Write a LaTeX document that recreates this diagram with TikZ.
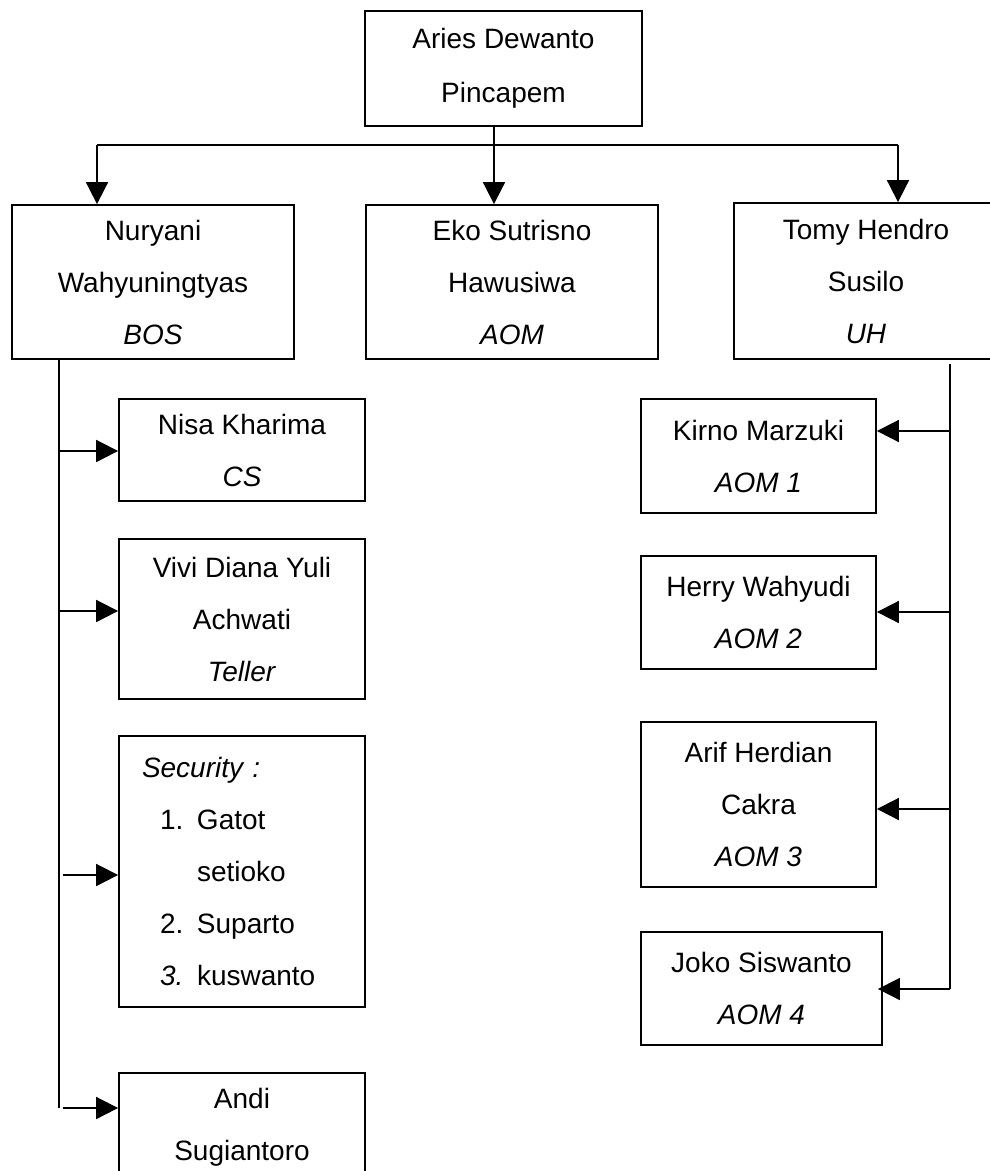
\documentclass[tikz,border=0pt]{standalone}
\usepackage{fontspec}
\setmainfont{Liberation Sans}
\usetikzlibrary{arrows.meta}
\tikzset{
  box/.style={draw, line width=1.8pt, inner sep=0pt, align=center, font=\fontsize{28}{52}\selectfont},
  conn/.style={line width=1.8pt},
  arr/.style={line width=1.8pt, -{Triangle[length=22pt,width=22pt]}}
}
\begin{document}
\begin{tikzpicture}[x=1pt,y=-1pt]
\useasboundingbox (0,0) rectangle (990,1171);
\clip (0,0) rectangle (990,1171);
\fill[white] (0,0) rectangle (990,1171);
% top level
\node[box, minimum width=277pt, minimum height=115pt, font=\fontsize{28}{54}\selectfont] (top) at (503.5,68.5) {Aries Dewanto\\Pincapem};
% second level
\node[box, minimum width=282pt, minimum height=154pt] (nur) at (153,282) {Nuryani\\Wahyuningtyas\\\textit{BOS}};
\node[box, minimum width=292pt, minimum height=154pt] (eko) at (512,282) {Eko Sutrisno\\Hawusiwa\\\textit{AOM}};
\node[box, minimum width=264pt, minimum height=156pt] (tomy) at (866,281) {Tomy Hendro\\Susilo\\\textit{UH}};
% left column
\node[box, minimum width=246pt, minimum height=102pt] (nisa) at (242,450) {Nisa Kharima\\\textit{CS}};
\node[box, minimum width=246pt, minimum height=160pt] (vivi) at (242,619) {Vivi Diana Yuli\\Achwati\\\textit{Teller}};
\node[box, minimum width=246pt, minimum height=271pt, text width=200pt, align=left] (sec) at (242,871.5) {\textit{Security :}\\
\hspace*{18pt}\makebox[37pt][l]{1.}Gatot\\
\hspace*{55pt}setioko\\
\hspace*{18pt}\makebox[37pt][l]{2.}Suparto\\
\hspace*{18pt}\makebox[37pt][l]{\textit{3.}}kuswanto};
\node[box, minimum width=246pt, minimum height=109pt] (andi) at (242,1127.5) {Andi\\Sugiantoro};
% right column
\node[box, minimum width=235pt, minimum height=114pt] (kirno) at (758.5,456) {Kirno Marzuki\\\textit{AOM 1}};
\node[box, minimum width=235pt, minimum height=113pt] (herry) at (758.5,612.5) {Herry Wahyudi\\\textit{AOM 2}};
\node[box, minimum width=235pt, minimum height=165pt] (arif) at (758.5,804.5) {Arif Herdian\\Cakra\\\textit{AOM 3}};
\node[box, minimum width=241pt, minimum height=113pt] (joko) at (761.5,988.5) {Joko Siswanto\\\textit{AOM 4}};
% bus coordinates
\coordinate (busL) at (97,145);
\coordinate (busM) at (494,145);
\coordinate (busR) at (898,145);
\draw[conn] (busL) -- (busR);
\draw[arr] (top.south -| busM) -- (eko.north -| busM);
\draw[arr] (busL) -- (nur.north -| busL);
\draw[arr] (busR) -- (tomy.north -| busR);
% left spine
\coordinate (spL) at (59,359);
\coordinate (spLend) at (59,1108);
\draw[conn] (nur.south -| spL) -- (spLend);
\coordinate (l1) at (59,451);
\coordinate (l2) at (59,611);
\coordinate (l3) at (63,875);
\coordinate (l4) at (63,1108);
\draw[arr] (l1) -- (l1 -| nisa.west);
\draw[arr] (l2) -- (l2 -| vivi.west);
\draw[arr] (l3) -- (l3 -| sec.west);
\draw[arr] (l4) -- (l4 -| andi.west);
% right spine
\coordinate (spR) at (950,364);
\coordinate (spRend) at (950,989);
\draw[conn] (spR) -- (spRend);
\coordinate (r1) at (950,431);
\coordinate (r2) at (950,612);
\coordinate (r3) at (950,809);
\draw[arr] (r1) -- (r1 -| kirno.east);
\draw[arr] (r2) -- (r2 -| herry.east);
\draw[arr] (r3) -- (r3 -| arif.east);
\draw[arr] (spRend) -- ([xshift=-5pt]spRend -| joko.east);
\end{tikzpicture}
\end{document}
